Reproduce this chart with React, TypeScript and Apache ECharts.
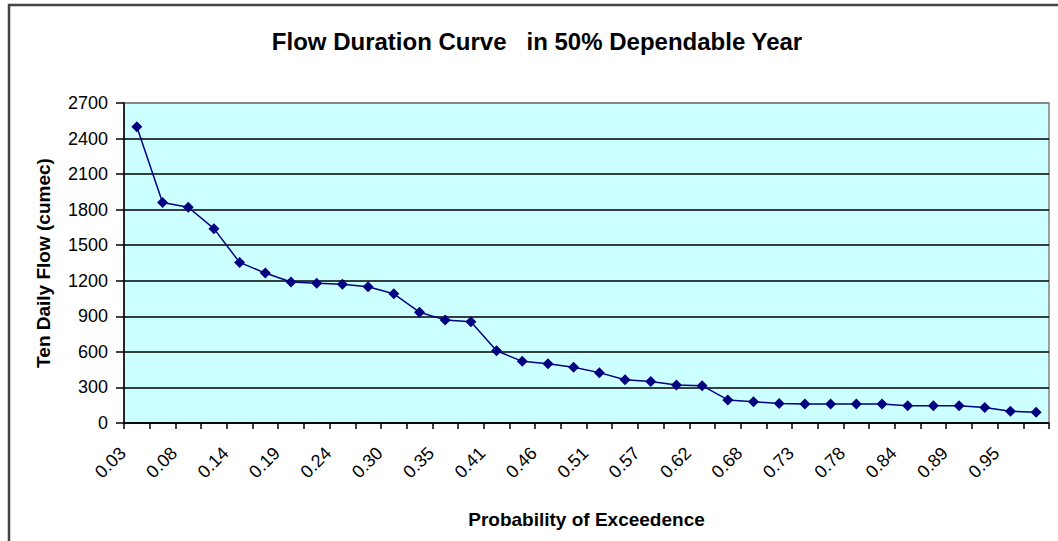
import React, { useEffect, useRef } from "react";
import * as echarts from "echarts";

const categories: string[] = [
  "0.03", "0.05", "0.08", "0.11", "0.14", "0.16", "0.19", "0.22", "0.24", "0.27",
  "0.30", "0.32", "0.35", "0.38", "0.41", "0.43", "0.46", "0.49", "0.51", "0.54",
  "0.57", "0.59", "0.62", "0.65", "0.68", "0.70", "0.73", "0.76", "0.78", "0.81",
  "0.84", "0.86", "0.89", "0.92", "0.95", "0.97",
];

const flowValues: number[] = [
  2500, 1860, 1820, 1640, 1355, 1265, 1190, 1180, 1170, 1150,
  1090, 935, 870, 855, 610, 520, 500, 470, 425, 365,
  350, 320, 315, 195, 180, 165, 160, 160, 160, 160,
  145, 145, 145, 130, 100, 90,
];

const titleText = "Flow Duration Curve   in 50% Dependable Year";
const xAxisName = "Probability of Exceedence";
const yAxisName = "Ten Daily Flow (cumec)";

const FONT = "'Liberation Sans', Arial, sans-serif";

export default function App() {
  const ref = useRef<HTMLDivElement>(null);
  useEffect(() => {
    if (!ref.current) return;
    const chart = echarts.init(ref.current, undefined, { renderer: "svg" });
    const splitColors = ["#000", "#000", "#000", "#000", "#000", "#000", "#000", "#000", "#000", "#808080"];
    chart.setOption({
      animation: false,
      backgroundColor: "#ffffff",
      textStyle: { fontFamily: FONT },
      graphic: [
        {
          type: "rect",
          shape: { x: 9, y: 5, width: 1200, height: 700 },
          style: { fill: "none", stroke: "#444", lineWidth: 2.5 },
          z: 100,
        },
        {
          type: "text",
          x: 537,
          y: 41,
          style: {
            text: titleText,
            font: `bold 24px ${FONT}`,
            fill: "#000",
            textAlign: "center",
            textVerticalAlign: "middle",
          },
        },
      ],
      grid: {
        left: 124,
        right: 9,
        top: 103,
        bottom: 118,
        show: true,
        backgroundColor: "#CCFFFF",
        borderColor: "#808080",
        borderWidth: 1.5,
      },
      xAxis: {
        type: "category",
        data: categories,
        boundaryGap: true,
        name: xAxisName,
        nameLocation: "middle",
        nameGap: 87,
        nameTextStyle: { fontFamily: FONT, fontSize: 19, fontWeight: "bold", color: "#000" },
        axisLine: { lineStyle: { color: "#000", width: 1.5 } },
        axisTick: { show: true, interval: 0, length: 6, lineStyle: { color: "#000", width: 1.5 } },
        axisLabel: {
          interval: 1,
          rotate: 45,
          margin: 13,
          padding: [0, 20, 0, 0],
          fontFamily: FONT,
          fontSize: 18,
          color: "#000",
        },
        splitLine: { show: false },
      },
      yAxis: {
        type: "value",
        min: 0,
        max: 2700,
        interval: 300,
        name: yAxisName,
        nameLocation: "middle",
        nameGap: 71,
        nameTextStyle: { fontFamily: FONT, fontSize: 19, fontWeight: "bold", color: "#000" },
        axisLine: { show: true, lineStyle: { color: "#000", width: 1.5 } },
        axisTick: { show: true, length: 8, lineStyle: { color: "#000", width: 1.5 } },
        axisLabel: {
          margin: 16,
          fontFamily: FONT,
          fontSize: 18,
          color: "#000",
          formatter: (v: number) => String(v),
        },
        splitLine: { show: true, lineStyle: { color: splitColors, width: 1.5 } },
      },
      series: [
        {
          type: "line",
          data: flowValues,
          symbol: "diamond",
          symbolSize: 11,
          lineStyle: { color: "#000080", width: 1.5 },
          itemStyle: { color: "#000080" },
        },
      ],
    });
    return () => chart.dispose();
  }, []);
  return (
    <div
      ref={ref}
      style={{ position: "fixed", left: 0, top: 0, width: 1058, height: 541 }}
    />
  );
}
